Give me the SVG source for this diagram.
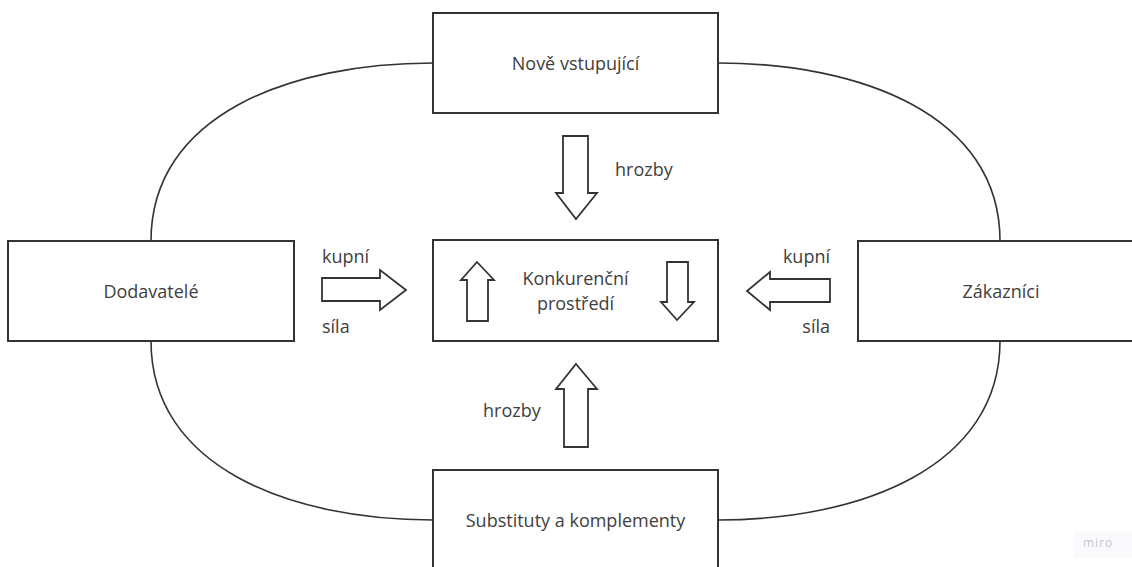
<svg xmlns="http://www.w3.org/2000/svg" width="1132" height="567" viewBox="0 0 1132 567">
<style>
.box{fill:#ffffff;stroke:#333333;stroke-width:2}
.arr{fill:#ffffff;stroke:#333333;stroke-width:1.8;stroke-linejoin:miter}
.con{fill:none;stroke:#333333;stroke-width:1.6}
text{font-family:"Open Sans","Noto Sans","Liberation Sans",sans-serif;font-size:18px;fill:#404040}
.c{text-anchor:middle}
.wm{font-size:12px;fill:#c4c4d4;letter-spacing:1px}
</style>
<rect width="1132" height="567" fill="#ffffff"/>
<g id="connectors">
<path class="con" d="M151,241 C151,115 290,63 433,63"/>
<path class="con" d="M1000,241 C1000,115 861,63 718,63"/>
<path class="con" d="M151,341 C151,467 290,520 433,520"/>
<path class="con" d="M1000,341 C1000,467 861,520 718,520"/>
</g>
<g id="node-nove">
<rect class="box" x="433" y="13" width="285" height="100"/>
<text class="c" x="575.5" y="70">Nově vstupující</text>
</g>
<g id="node-konkurencni">
<rect class="box" x="433" y="240" width="285" height="101"/>
<text class="c" x="575.5" y="285">Konkurenční</text>
<text class="c" x="575.5" y="310">prostředí</text>
<path class="arr" d="M477,262 L494,280 L488,280 L488,321 L467,321 L467,280 L461,280 Z"/>
<path class="arr" d="M667,262 L688,262 L688,302 L694,302 L677,320 L661,302 L667,302 Z"/>
</g>
<g id="node-dodavatele">
<rect class="box" x="8" y="241" width="286" height="100"/>
<text class="c" x="151" y="298">Dodavatelé</text>
</g>
<g id="node-zakaznici">
<rect class="box" x="858" y="241" width="286" height="100"/>
<text class="c" x="1001" y="298">Zákazníci</text>
</g>
<g id="node-substituty">
<rect class="box" x="433" y="470" width="285" height="110"/>
<text class="c" x="575.5" y="527">Substituty a komplementy</text>
</g>
<g id="arrow-top">
<path class="arr" d="M563,136 L588,136 L588,193 L597,193 L576,219 L556,193 L563,193 Z"/>
<text x="615" y="176">hrozby</text>
</g>
<g id="arrow-bottom">
<path class="arr" d="M576,364 L597,389 L588,389 L588,447 L564,447 L564,389 L556,389 Z"/>
<text x="483" y="417">hrozby</text>
</g>
<g id="arrow-left">
<path class="arr" d="M322,278 L380,278 L380,270 L406,290 L380,310 L380,301 L322,301 Z"/>
<text x="322" y="263">kupní</text>
<text x="322" y="333">síla</text>
</g>
<g id="arrow-right">
<path class="arr" d="M830,279 L770,279 L770,272 L747,291 L770,310 L770,302 L830,302 Z"/>
<text x="830" y="263" text-anchor="end">kupní</text>
<text x="830" y="333" text-anchor="end">síla</text>
</g>
<g id="watermark">
<rect x="1074" y="532" width="58" height="26" fill="#fafafc"/>
<text class="wm" x="1083" y="547">miro</text>
</g>
</svg>
